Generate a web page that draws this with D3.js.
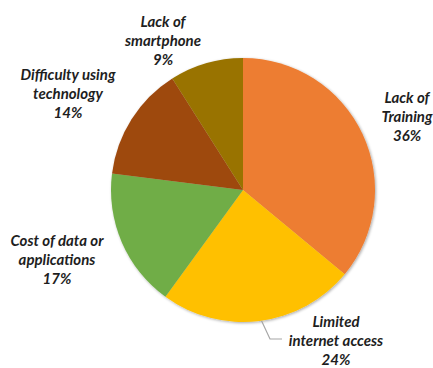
<!DOCTYPE html>
<html>
<head>
<meta charset="utf-8">
<script src="https://cdn.jsdelivr.net/npm/d3@7"></script>
<style>
  body { margin: 0; background: #fff; }
  .lbl { font-family: Lato, "Open Sans", sans-serif; font-weight: bold; font-style: italic; font-size: 15px; fill: #1e1e1e; }
</style>
</head>
<body>
<svg class="chart" width="433" height="368"></svg>
<script>
let categories = ['Lack of Training', 'Limited internet access', 'Cost of data or applications', 'Difficulty using technology', 'Lack of smartphone']
let values = [36, 24, 17, 14, 9]
let colors = ['#ED7D31', '#FFC000', '#70AD47', '#9E480E', '#997300']
// label lines as drawn in the picture
let labelLines = [
  ['Lack of', 'Training', '36%'],
  ['Limited', 'internet access', '24%'],
  ['Cost of data or', 'applications', '17%'],
  ['Difficulty using', 'technology', '14%'],
  ['Lack of', 'smartphone', '9%']
]
// label centres (x, y of first line)
let labelPos = [[407, 97], [336, 321], [57, 240], [68, 74], [163, 21]]

let data = categories.map((c, i) => ({ name: c, value: values[i], color: colors[i], lines: labelLines[i], pos: labelPos[i] }))

let cx = 243, cy = 190, radius = 132

let svg = d3.select('.chart')

// soft shadow round the pie
let defs = svg.append('defs')
let f = defs.append('filter').attr('id', 'shadow').attr('x', '-10%').attr('y', '-10%').attr('width', '120%').attr('height', '120%')
f.append('feGaussianBlur').attr('in', 'SourceAlpha').attr('stdDeviation', 1.5)
f.append('feOffset').attr('dx', 0.5).attr('dy', 1).attr('result', 'b')
f.append('feComponentTransfer').append('feFuncA').attr('type', 'linear').attr('slope', 0.35)
let m = f.append('feMerge')
m.append('feMergeNode')
m.append('feMergeNode').attr('in', 'SourceGraphic')

let pie = d3.pie().sort(null).value(d => d.value)
let arc = d3.arc().innerRadius(0).outerRadius(radius)

let g = svg.append('g')
    .attr('transform', 'translate(' + cx + ',' + cy + ')')
    .attr('filter', 'url(#shadow)')

g.selectAll('path')
    .data(pie(data))
    .enter()
    .append('path')
    .attr('d', arc)
    .attr('fill', d => d.data.color)

// leader line for the bottom label
let arcs = pie(data)
let a1 = arcs[1]
let mid = a1.startAngle + (a1.endAngle - a1.startAngle) * 0.49
let sx = cx + radius * Math.sin(mid), sy = cy - radius * Math.cos(mid)
svg.append('polyline')
    .attr('points', [[sx, sy], [270, 339], [282, 339]].map(p => p.join(',')).join(' '))
    .attr('fill', 'none')
    .attr('stroke', '#a6a6a6')
    .attr('stroke-width', 1.2)

let labels = svg.selectAll('.lbl')
    .data(data)
    .enter()
    .append('text')
    .attr('class', 'lbl')
    .attr('text-anchor', 'middle')
    .attr('x', d => d.pos[0])
    .attr('y', d => d.pos[1])
    .attr('dominant-baseline', 'central')

labels.selectAll('tspan')
    .data(d => d.lines.map(l => ({ t: l, x: d.pos[0] })))
    .enter()
    .append('tspan')
    .attr('x', d => d.x)
    .attr('dy', (d, i) => i === 0 ? 0 : 19)
    .text(d => d.t)
</script>
</body>
</html>
